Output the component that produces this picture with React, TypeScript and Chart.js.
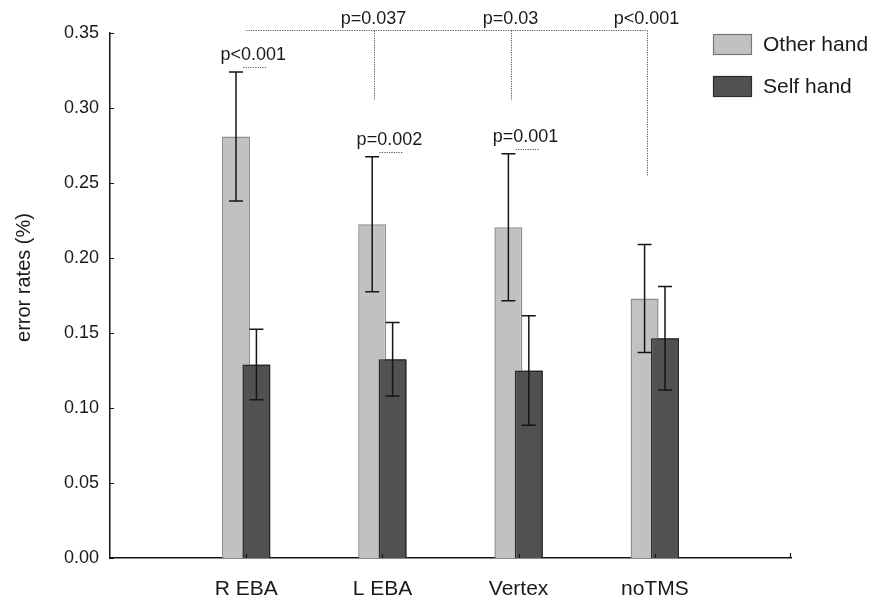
import React, { useEffect, useRef } from 'react';
import { Chart, registerables } from 'chart.js';

Chart.register(...registerables);

// ---- data ----
const categories = ['R EBA', 'L EBA', 'Vertex', 'noTMS'];
const otherHand = [0.281, 0.2225, 0.2205, 0.173];
const otherErr = [0.043, 0.045, 0.049, 0.036];
const selfHand = [0.129, 0.1325, 0.125, 0.1465];
const selfErr = [0.0235, 0.0245, 0.0365, 0.0345];
const yTicks = [0, 0.05, 0.1, 0.15, 0.2, 0.25, 0.3, 0.35];
const withinP = ['p<0.001', 'p=0.002', 'p=0.001', ''];
const bracketTargets = ['L EBA', 'Vertex', 'noTMS'];
const bracketP = ['p=0.037', 'p=0.03', 'p<0.001'];
const bracketDropEnds = [0.305, 0.305, 0.255];
const bracketLevel = 0.352;
const yTitle = 'error rates (%)';

const FONT = '"Liberation Sans", Arial, Helvetica, sans-serif';
const TEXT = '#1a1a1a';
const OTHER_FILL = '#c1c1c1';
const OTHER_BORDER = '#8e8e8e';
const SELF_FILL = '#515151';
const SELF_BORDER = '#262626';

const paddedLabels = ['', ...categories, ''];
const pad = (a: number[]) => [null, ...a, null];

const annotPlugin = {
  id: 'annot',
  afterDatasetsDraw(chart: any) {
    const ctx = chart.ctx as CanvasRenderingContext2D;
    const xs = chart.scales.x;
    const ys = chart.scales.y;
    const area = chart.chartArea;

    // Self-hand bars drawn over the Other-hand bars
    chart.getDatasetMeta(1).controller.draw();

    // error bars
    const sets = [
      { vals: otherHand, errs: otherErr, meta: chart.getDatasetMeta(0) },
      { vals: selfHand, errs: selfErr, meta: chart.getDatasetMeta(1) },
    ];
    ctx.save();
    ctx.strokeStyle = '#151515';
    ctx.lineWidth = 1.5;
    sets.forEach((s) => {
      s.vals.forEach((v, i) => {
        const el = s.meta.data[i + 1];
        const x = el.x;
        const top = ys.getPixelForValue(v + s.errs[i]);
        const bot = ys.getPixelForValue(v - s.errs[i]);
        ctx.beginPath();
        ctx.moveTo(x, top);
        ctx.lineTo(x, bot);
        ctx.moveTo(x - 7, top);
        ctx.lineTo(x + 7, top);
        ctx.moveTo(x - 7, bot);
        ctx.lineTo(x + 7, bot);
        ctx.stroke();
      });
    });
    ctx.restore();

    // axis tick marks (inward)
    ctx.save();
    ctx.strokeStyle = '#151515';
    ctx.lineWidth = 1.2;
    ctx.beginPath();
    yTicks.forEach((v) => {
      const py = Math.round(ys.getPixelForValue(v)) + 0.5;
      ctx.moveTo(area.left, py);
      ctx.lineTo(area.left + 4, py);
    });
    categories.forEach((_, i) => {
      const px = Math.round(xs.getPixelForValue(i + 1)) + 0.5;
      ctx.moveTo(px, area.bottom);
      ctx.lineTo(px, area.bottom - 4);
    });
    ctx.moveTo(area.right - 0.5, area.bottom);
    ctx.lineTo(area.right - 0.5, area.bottom - 5);
    ctx.stroke();
    ctx.restore();

    // y axis title
    ctx.save();
    ctx.translate(24, (area.top + area.bottom) / 2 - 18);
    ctx.rotate(-Math.PI / 2);
    ctx.font = `20px ${FONT}`;
    ctx.fillStyle = TEXT;
    ctx.textAlign = 'center';
    ctx.textBaseline = 'middle';
    ctx.fillText(yTitle, 0, 0);
    ctx.restore();

    // significance annotations
    ctx.save();
    ctx.font = `18px ${FONT}`;
    ctx.fillStyle = TEXT;
    ctx.textAlign = 'center';
    ctx.textBaseline = 'alphabetic';
    ctx.strokeStyle = '#555';
    ctx.lineWidth = 1;
    ctx.setLineDash([1.2, 1.2]);

    // within-site comparisons
    withinP.forEach((p, i) => {
      if (!p) return;
      const gx = xs.getPixelForValue(i + 1);
      const errTop = ys.getPixelForValue(otherHand[i] + otherErr[i]);
      ctx.fillText(p, gx + 7, errTop - 12);
      ctx.beginPath();
      ctx.moveTo(gx - 3, Math.round(errTop - 5) + 0.5);
      ctx.lineTo(gx + 21, Math.round(errTop - 5) + 0.5);
      ctx.stroke();
    });

    // bracket from R EBA to other sites
    const by = Math.round(ys.getPixelForValue(bracketLevel)) + 0.5;
    const startX = xs.getPixelForValue(1);
    const endIdx = categories.indexOf(bracketTargets[bracketTargets.length - 1]) + 1;
    const endX = xs.getPixelForValue(endIdx) - 8;
    ctx.beginPath();
    ctx.moveTo(startX, by);
    ctx.lineTo(endX, by);
    ctx.stroke();
    bracketTargets.forEach((t, k) => {
      const dx = Math.round(xs.getPixelForValue(categories.indexOf(t) + 1) - 8) + 0.5;
      ctx.beginPath();
      ctx.moveTo(dx, by);
      ctx.lineTo(dx, ys.getPixelForValue(bracketDropEnds[k]));
      ctx.stroke();
      ctx.fillText(bracketP[k], dx - 1, by - 7);
    });
    ctx.restore();

    // legend
    ctx.save();
    const items = [
      { label: 'Other hand', fill: OTHER_FILL, border: '#777' },
      { label: 'Self hand', fill: SELF_FILL, border: '#2a2a2a' },
    ];
    items.forEach((it, k) => {
      const bx = area.right - 78;
      const byy = area.top + 1 + k * 42;
      ctx.fillStyle = it.fill;
      ctx.fillRect(bx, byy, 39, 21);
      ctx.strokeStyle = it.border;
      ctx.lineWidth = 1.2;
      ctx.strokeRect(bx + 0.5, byy + 0.5, 38, 20);
      ctx.fillStyle = TEXT;
      ctx.font = `21px ${FONT}`;
      ctx.textAlign = 'left';
      ctx.textBaseline = 'middle';
      ctx.fillText(it.label, bx + 50, byy + 11);
    });
    ctx.restore();
  },
};

export default function App() {
  const ref = useRef<HTMLCanvasElement | null>(null);

  useEffect(() => {
    if (!ref.current) return;
    const chart = new Chart(ref.current, {
      type: 'bar',
      data: {
        labels: paddedLabels,
        datasets: [
          {
            label: 'Other hand',
            data: pad(otherHand) as any,
            backgroundColor: OTHER_FILL,
            borderColor: OTHER_BORDER,
            borderWidth: 1.5,
            categoryPercentage: 0.3,
            barPercentage: 1.37,
          },
          {
            label: 'Self hand',
            data: pad(selfHand) as any,
            backgroundColor: SELF_FILL,
            borderColor: SELF_BORDER,
            borderWidth: 1.5,
            categoryPercentage: 0.3,
            barPercentage: 1.37,
          },
        ],
      },
      options: {
        responsive: false,
        animation: false,
        devicePixelRatio: 1,
        layout: { padding: { left: 0, top: 33, right: 81, bottom: 0 } },
        plugins: {
          legend: { display: false },
          tooltip: { enabled: false },
        },
        scales: {
          x: {
            type: 'category',
            offset: false,
            grid: { display: false, drawTicks: false },
            border: { display: true, color: '#151515', width: 1.5 },
            ticks: {
              autoSkip: false,
              maxRotation: 0,
              padding: 19,
              color: TEXT,
              font: { family: FONT, size: 21 },
            },
            afterFit: (s: any) => {
              s.height = 43;
            },
          },
          y: {
            min: 0,
            max: 0.35,
            grid: { display: false, drawTicks: false },
            border: { display: true, color: '#151515', width: 1.5 },
            ticks: {
              stepSize: 0.05,
              padding: 11,
              color: TEXT,
              font: { family: FONT, size: 18 },
              callback: (v: any) => Number(v).toFixed(2),
            },
            title: { display: false },
            afterFit: (s: any) => {
              s.width = 110;
            },
          },
        },
      },
      plugins: [annotPlugin],
    });
    return () => chart.destroy();
  }, []);

  return (
    <div style={{ position: 'fixed', left: 0, top: 0, width: 872, height: 601, background: '#fff' }}>
      <canvas ref={ref} width={872} height={601} style={{ display: 'block' }} />
    </div>
  );
}
